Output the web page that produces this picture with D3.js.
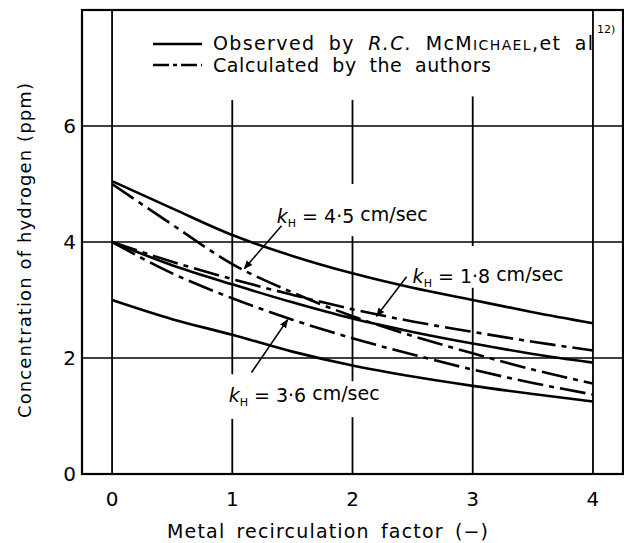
<!DOCTYPE html>
<html>

<head>
    <script src="https://d3js.org/d3.v7.min.js"></script>
    <style>
        body { margin: 0; background: #fff; }
        text { font-family: "DejaVu Sans", "Liberation Sans", sans-serif; fill: #000; }
    </style>
</head>

<body>
    <script>
        // recirculation factor (x) where the curves were read
        const factor = [0, 0.5, 1, 1.5, 2, 2.5, 3, 3.5, 4];

        // observed curves (solid), ppm
        const observedHigh = [5.05, 4.58, 4.12, 3.76, 3.46, 3.21, 3.00, 2.79, 2.60];
        const observedMid = [4.00, 3.60, 3.27, 2.96, 2.68, 2.45, 2.25, 2.07, 1.92];
        const observedLow = [3.00, 2.67, 2.40, 2.11, 1.87, 1.68, 1.52, 1.38, 1.25];

        // calculated curves (dash-dot), ppm
        const calcK45 = [5.00, 4.30, 3.62, 3.13, 2.72, 2.38, 2.08, 1.80, 1.56];
        const calcK18 = [4.00, 3.66, 3.36, 3.09, 2.84, 2.63, 2.45, 2.28, 2.13];
        const calcK36 = [4.00, 3.46, 3.03, 2.66, 2.34, 2.06, 1.80, 1.57, 1.37];

        const xTicks = [0, 1, 2, 3, 4];
        const yTicks = [0, 2, 4, 6];

        // vertical grid lines are broken in the original drawing (gaps around text)
        const vGrid = [
            { x: 0, segs: [[0, 8]] },
            { x: 1, segs: [[0, 0.95], [1.72, 6.45]] },
            { x: 2, segs: [[0, 0.98], [1.6, 4.1], [5.0, 6.45]] },
            { x: 3, segs: [[0, 3.21], [3.93, 6.51]] },
            { x: 4, segs: [[0, 8]] }
        ];

        // kH labels and arrows (data units)
        const kLabels = [
            { k: "4·5", x: 1.37, y: 4.33, from: [1.41, 4.28], to: [1.10, 3.54] },
            { k: "1·8", x: 2.50, y: 3.30, from: [2.45, 3.40], to: [2.20, 2.72] },
            { k: "3·6", x: 0.97, y: 1.25, from: [1.16, 1.75], to: [1.46, 2.66] }
        ];

        const width = 624, height = 543;

        const svg = d3.select("body").append("svg")
            .attr("width", width)
            .attr("height", height);

        const x = d3.scaleLinear().domain([-0.25, 4.25]).range([82, 623]);
        const y = d3.scaleLinear().domain([0, 8]).range([474, 10]);

        // arrow head
        svg.append("defs").append("marker")
            .attr("id", "arr")
            .attr("viewBox", "0 0 10 10")
            .attr("refX", 9).attr("refY", 5)
            .attr("markerWidth", 9).attr("markerHeight", 9)
            .attr("markerUnits", "userSpaceOnUse")
            .attr("orient", "auto")
            .append("path")
            .attr("d", "M0,1 L10,5 L0,9 Z")
            .attr("fill", "#000");

        // horizontal grid
        svg.selectAll("line.hg")
            .data(yTicks.filter(d => d > 0))
            .enter().append("line")
            .attr("class", "hg")
            .attr("x1", x(-0.25)).attr("x2", x(4.25))
            .attr("y1", d => y(d)).attr("y2", d => y(d))
            .attr("stroke", "#000").attr("stroke-width", 1.6);

        // vertical grid (segments)
        const segs = [];
        vGrid.forEach(g => g.segs.forEach(s => segs.push({ x: g.x, y0: s[0], y1: s[1] })));
        svg.selectAll("line.vg")
            .data(segs)
            .enter().append("line")
            .attr("class", "vg")
            .attr("x1", d => x(d.x)).attr("x2", d => x(d.x))
            .attr("y1", d => y(d.y0)).attr("y2", d => y(d.y1))
            .attr("stroke", "#000").attr("stroke-width", 1.8);

        // frame
        svg.append("rect")
            .attr("x", x(-0.25)).attr("y", y(8))
            .attr("width", x(4.25) - x(-0.25))
            .attr("height", y(0) - y(8))
            .attr("fill", "none")
            .attr("stroke", "#000").attr("stroke-width", 2.2);

        // curves
        const line = d3.line()
            .x((d, i) => x(factor[i]))
            .y(d => y(d))
            .curve(d3.curveMonotoneX);

        const curves = [
            { v: observedHigh, dash: null },
            { v: observedMid, dash: null },
            { v: observedLow, dash: null },
            { v: calcK45, dash: "26,6,5,6" },
            { v: calcK18, dash: "26,6,5,6" },
            { v: calcK36, dash: "26,6,5,6" }
        ];

        svg.selectAll("path.curve")
            .data(curves)
            .enter().append("path")
            .attr("class", "curve")
            .attr("d", d => line(d.v))
            .attr("fill", "none")
            .attr("stroke", "#000")
            .attr("stroke-width", 2.6)
            .attr("stroke-dasharray", d => d.dash);

        // tick labels
        svg.selectAll("text.xt")
            .data(xTicks)
            .enter().append("text")
            .attr("class", "xt")
            .attr("x", d => x(d)).attr("y", 506)
            .attr("text-anchor", "middle")
            .attr("font-size", 20)
            .text(d => d);

        svg.selectAll("text.yt")
            .data(yTicks)
            .enter().append("text")
            .attr("class", "yt")
            .attr("x", 76).attr("y", d => y(d))
            .attr("dy", ".36em")
            .attr("text-anchor", "end")
            .attr("font-size", 20)
            .text(d => d);

        // axis titles
        svg.append("text")
            .attr("x", 167).attr("y", 538)
            .attr("font-size", 19)
            .attr("word-spacing", 4)
            .attr("textLength", 321)
            .attr("lengthAdjust", "spacing")
            .text("Metal recirculation factor (−)");

        svg.append("text")
            .attr("transform", "translate(31,418) rotate(-90)")
            .attr("font-size", 18)
            .attr("textLength", 335)
            .attr("lengthAdjust", "spacing")
            .text("Concentration of hydrogen  (ppm)");

        // legend
        const legend = [
            { y: 44, dash: null },
            { y: 65, dash: "16,4,4,4" }
        ];
        svg.selectAll("line.lg")
            .data(legend)
            .enter().append("line")
            .attr("class", "lg")
            .attr("x1", 153).attr("x2", 202)
            .attr("y1", d => d.y).attr("y2", d => d.y)
            .attr("stroke", "#000").attr("stroke-width", 2.4)
            .attr("stroke-dasharray", d => d.dash);

        const t1 = svg.append("text")
            .attr("x", 213).attr("y", 50)
            .attr("font-size", 19)
            .attr("word-spacing", 6)
            .attr("textLength", 380)
            .attr("lengthAdjust", "spacing");
        t1.append("tspan").text("Observed by ");
        t1.append("tspan").attr("font-style", "italic").text("R.C.");
        t1.append("tspan").text(" McM");
        t1.append("tspan").attr("font-size", 14).text("ICHAEL");
        t1.append("tspan").text(",et al");

        svg.append("text")
            .attr("x", 597).attr("y", 33)
            .attr("font-size", 11)
            .text("12)");

        svg.append("text")
            .attr("x", 213).attr("y", 72)
            .attr("font-size", 19)
            .attr("word-spacing", 6)
            .attr("textLength", 278)
            .attr("lengthAdjust", "spacing")
            .text("Calculated by the authors");

        // kH labels
        kLabels.forEach(d => {
            const t = svg.append("text")
                .attr("x", x(d.x)).attr("y", y(d.y))
                .attr("font-size", 19);
            t.append("tspan").attr("font-style", "italic").text("k");
            t.append("tspan").attr("font-size", 11).attr("dy", 4).text("H");
            t.append("tspan").attr("dy", -4).text(" = " + d.k + " ");
            t.append("tspan").attr("dy", -2).text("cm/sec");

            svg.append("line")
                .attr("x1", x(d.from[0])).attr("y1", y(d.from[1]))
                .attr("x2", x(d.to[0])).attr("y2", y(d.to[1]))
                .attr("stroke", "#000").attr("stroke-width", 1.5)
                .attr("marker-end", "url(#arr)");
        });
    </script>
</body>

</html>
